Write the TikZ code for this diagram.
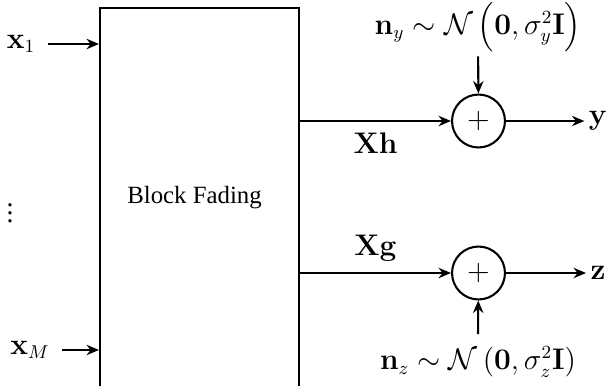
\documentclass[tikz,border=0pt]{standalone}
\usepackage{amsmath}
\usepackage{amssymb}
\usepackage[no-math]{fontspec}
\setmainfont{Liberation Serif}
\usetikzlibrary{arrows.meta}

\tikzset{
    sumnode/.style={draw, circle, line width=1pt, minimum size=0.9cm, inner sep=0pt},
    sig/.style={-{Stealth[length=6pt,width=5pt]}, line width=1pt},
    mathlbl/.style={font=\fontsize{13.3}{15}\selectfont, inner sep=2pt},
}

\begin{document}
\begin{tikzpicture}[x=0.017cm, y=-0.017cm, font=\fontsize{12}{14}\selectfont]
    \useasboundingbox (0,0) rectangle (606,385);
    % Block fading channel
    \node[draw, line width=1pt, minimum width=3.383cm, minimum height=6.67cm, inner sep=0pt] (block) at (199.5,203.75) {};
    \node (blocklabel) at (194.5,198) {Block Fading};
    % Inputs
    \node[mathlbl] (x1) at (21,44) {$\mathbf{x}_1$};
    \node[mathlbl] (xM) at (30,350) {$\mathbf{x}_M$};
    \node[mathlbl] (dots) at (10,207) {$\vdots$};
    \draw[sig] ([xshift=4pt]x1.east) -- (x1 -| block.west);
    \draw[sig] ([xshift=4pt]xM.east) -- (xM -| block.west);
    % Adders
    \node[sumnode, mathlbl] (sumy) at (478.5,121) {$+$};
    \node[sumnode, mathlbl] (sumz) at (478.5,273) {$+$};
    \node[mathlbl] (y) at (598,121) {$\mathbf{y}$};
    \node[mathlbl] (z) at (598,273) {$\mathbf{z}$};
    \node[mathlbl] (ny) at (478,27) {$\mathbf{n}_y \sim \mathcal{N}\left(\mathbf{0}, \sigma_y^2\mathbf{I}\right)$};
    \node[mathlbl] (nz) at (478,362) {$\mathbf{n}_z \sim \mathcal{N}\left(\mathbf{0}, \sigma_z^2\mathbf{I}\right)$};
    % Channel outputs
    \draw[sig] (sumy -| block.east) -- node[mathlbl, below=3pt] (xh) {$\mathbf{Xh}$} (sumy);
    \draw[sig] (sumz -| block.east) -- node[mathlbl, above=3pt] (xg) {$\mathbf{Xg}$} (sumz);
    \draw[sig] (sumy) -- (y);
    \draw[sig] (sumz) -- (z);
    \draw[sig] (ny) -- (sumy);
    \draw[sig] ([yshift=4pt]nz.north) -- (sumz);
\end{tikzpicture}
\end{document}
